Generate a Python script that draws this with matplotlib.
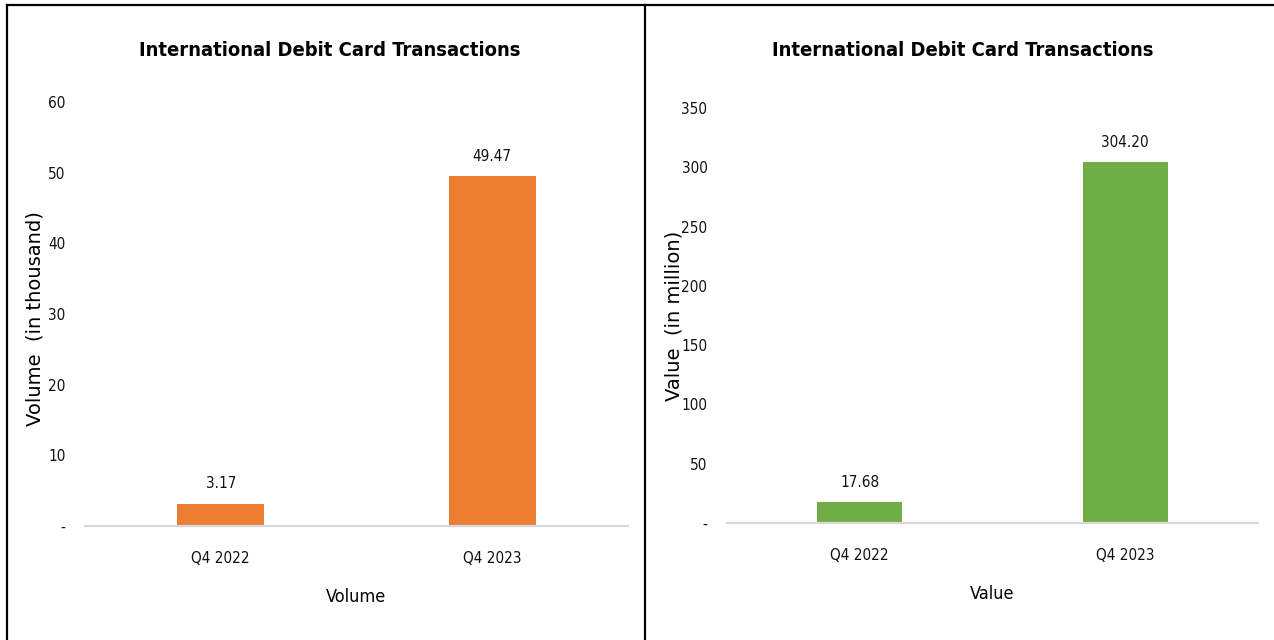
import matplotlib.pyplot as plt
from matplotlib.lines import Line2D

plt.rcParams['font.family'] = ['DejaVu Sans']
plt.rcParams['font.stretch'] = 'condensed'

quarters = ["Q4 2022", "Q4 2023"]
volume = [3.17, 49.47]      # thousand transactions
value = [17.68, 304.20]     # million

vol_ticks = [0, 10, 20, 30, 40, 50, 60]
val_ticks = [0, 50, 100, 150, 200, 250, 300, 350]

W, H = 1274, 640


def tick_text(t):
    # accounting style: zero shown as a dash
    return "-" if t == 0 else str(t)


def panel(ax, vals, color, ticks, ylabel, xlabel, title_x, label_xy):
    x = range(len(quarters))
    bars = ax.bar(x, vals, width=0.32, color=color)
    ax.bar_label(bars, labels=["%.2f" % v for v in vals], padding=9,
                 fontsize=11, color="#111111")
    ax.set_xlim(-0.5, len(quarters) - 0.5)
    ax.set_ylim(ticks[0], ticks[-1])
    ax.set_yticks(ticks)
    ax.set_yticklabels([tick_text(t) for t in ticks])
    ax.set_xticks(list(x))
    ax.set_xticklabels(quarters)
    ax.tick_params(axis="both", length=0, labelsize=11, colors="#111111")
    ax.tick_params(axis="y", pad=14)
    ax.tick_params(axis="x", pad=18)
    for s in ["top", "right", "left"]:
        ax.spines[s].set_visible(False)
    ax.spines["bottom"].set_color("#d9d9d9")
    ax.spines["bottom"].set_linewidth(1.6)
    ax.set_ylabel(ylabel, fontsize=14, fontstretch="normal")
    ax.yaxis.set_label_coords(*label_xy)
    ax.set_xlabel(xlabel, fontsize=13, labelpad=16)
    fig.text(title_x / W, 1 - 50 / H, "International Debit Card Transactions",
             fontsize=14.5, fontweight="bold", ha="center", va="center")


fig = plt.figure(figsize=(12.74, 6.40), dpi=100)
ax1 = fig.add_axes([0.0667, 0.178, 0.4262, 0.6625])
ax2 = fig.add_axes([0.5706, 0.1828, 0.4168, 0.6484])

panel(ax1, volume, "#ED7D31", vol_ticks, "Volume  (in thousand)", "Volume",
      330, (-0.074, 0.49))
panel(ax2, value, "#70AD47", val_ticks, "Value  (in million)", "Value",
      963, (-0.081, 0.50))

# frame lines around the two panels
for xs, ys in [([7, W], [5, 5]), ([7, 7], [5, H]), ([645, 645], [5, H])]:
    fig.add_artist(Line2D([a / W for a in xs], [1 - b / H for b in ys],
                          color="black", linewidth=1.6))

fig.savefig("out.png", dpi=100)
